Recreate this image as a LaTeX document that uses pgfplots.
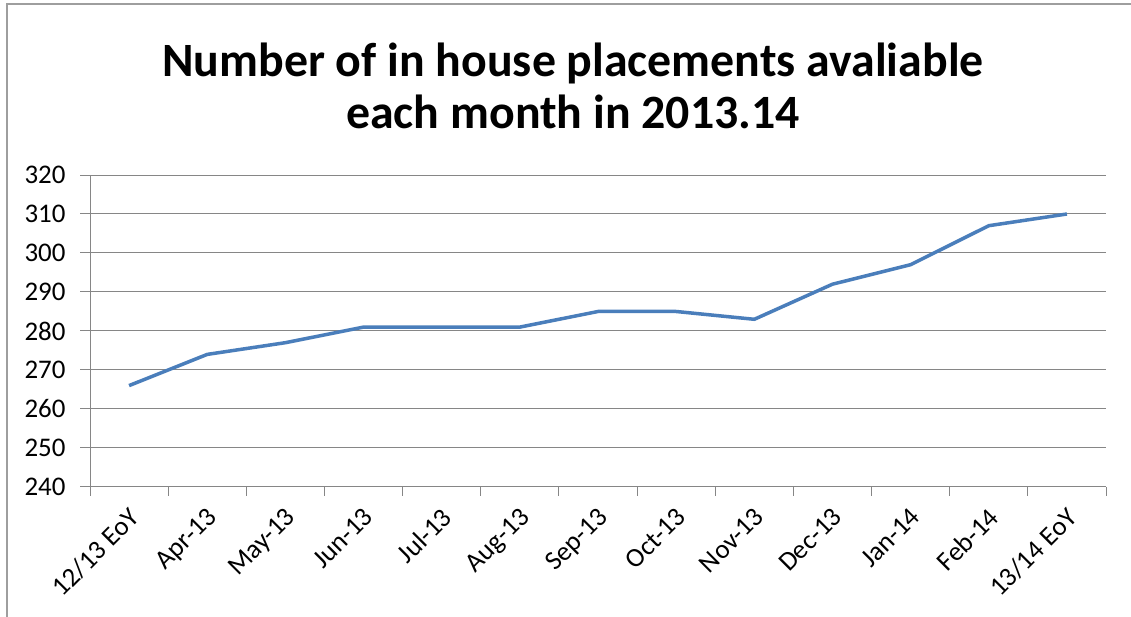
\documentclass[border=0pt]{standalone}
\usepackage{pgfplots}
\pgfplotsset{compat=1.18}
\usepackage{fontspec}
\setmainfont{Carlito}
\definecolor{exblue}{RGB}{74,126,187}
\definecolor{gridgray}{RGB}{134,134,134}
\begin{document}
\begin{tikzpicture}[x=1bp,y=1bp]
\useasboundingbox (0,0) rectangle (1131,617);
\fill[white] (0,0) rectangle (1131,617);
\draw[gridgray!80, line width=2.5bp] (7,0) -- (7,613) -- (1131,613);
\node[align=center, font=\fontsize{48}{53}\selectfont\bfseries] at (573,531) {Number of in house placements avaliable\\each month in 2013.14};
\begin{axis}[
  at={(90bp,130bp)}, anchor=south west,
  width=1016bp, height=312bp, scale only axis,
  xmin=-0.5, xmax=12.5, ymin=240, ymax=320,
  axis x line*=bottom, axis y line*=left,
  axis line style={gridgray, line width=1pt},
  ytick={240,250,...,320},
  yticklabels={240,250,260,270,280,290,300,310,320},
  ymajorgrids, grid style={gridgray, line width=1pt},
  xtick={0,...,12},
  xticklabels={12/13 EoY,Apr-13,May-13,Jun-13,Jul-13,Aug-13,Sep-13,Oct-13,Nov-13,Dec-13,Jan-14,Feb-14,13/14 EoY},
  minor xtick={-0.5,0.5,...,12.5},
  x tick style={draw=none},
  minor x tick style={gridgray, line width=1pt, draw=gridgray},
  minor tick length=9bp,
  y tick style={gridgray, line width=1pt},
  major tick length=10bp,
  tick align=outside,
  xticklabel style={rotate=45, anchor=north east, font=\fontsize{27}{29}\selectfont, xshift=-4bp, yshift=-2bp},
  y tick label style={font=\fontsize{27}{29}\selectfont, anchor=east, xshift=-11bp},
  every axis plot/.append style={line join=round}
]
\addplot[exblue, line width=3.5bp, mark=none] coordinates {
(0,266) (1,274) (2,277) (3,281) (4,281) (5,281) (6,285) (7,285) (8,283) (9,292) (10,297) (11,307) (12,310)
};
\end{axis}
\end{tikzpicture}
\end{document}
